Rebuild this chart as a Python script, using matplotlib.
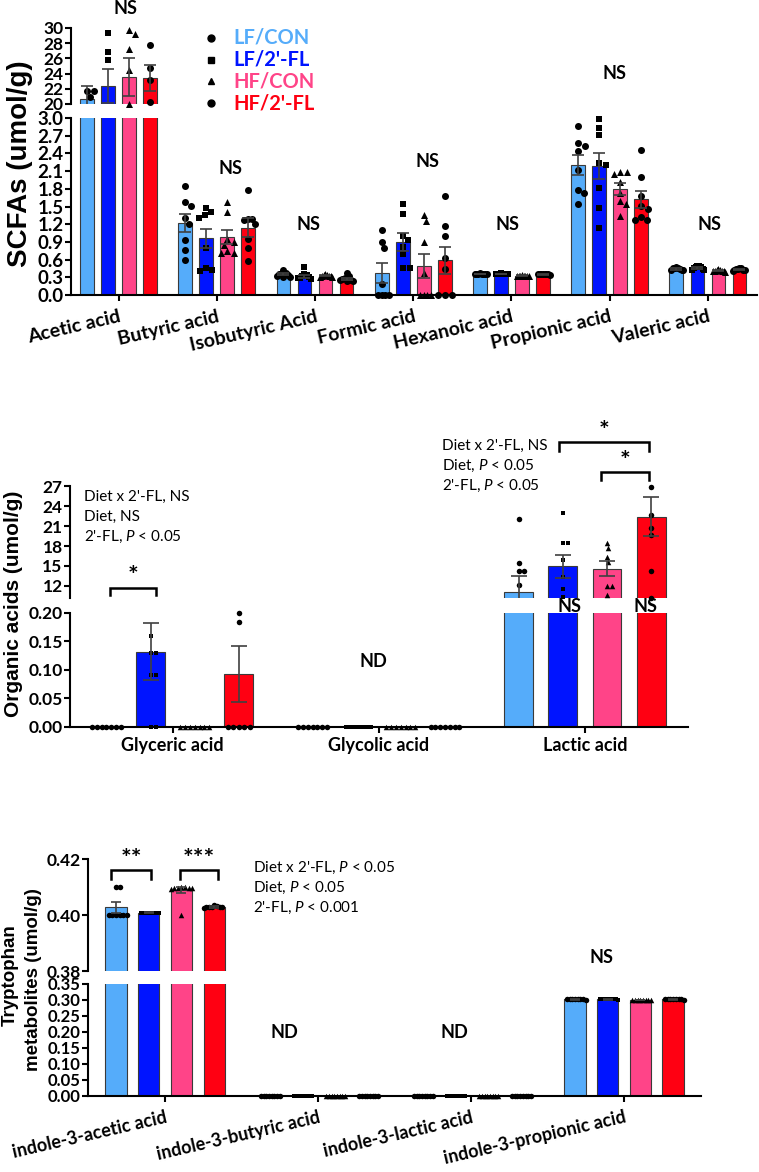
import numpy as np
import matplotlib
matplotlib.use('Agg')
import matplotlib.pyplot as plt
from matplotlib.lines import Line2D

plt.rcParams['font.family'] = ['Lato', 'DejaVu Sans']
plt.rcParams['mathtext.fontset'] = 'custom'
plt.rcParams['mathtext.rm'] = 'Lato'
plt.rcParams['mathtext.it'] = 'Lato:italic'
plt.rcParams['mathtext.bf'] = 'Lato:bold'

W, H = 759, 1172

# ---------------- data ----------------
groups = ['LF/CON', "LF/2'-FL", 'HF/CON', "HF/2'-FL"]
group_colors = ['#55ACFA', '#0014FF', '#FF4488', '#FF0012']
group_markers = ['o', 's', '^', 'o']

scfa_categories = ['Acetic acid', 'Butyric acid', 'Isobutyric Acid', 'Formic acid',
                   'Hexanoic acid', 'Propionic acid', 'Valeric acid']
scfa_means = [[20.66, 22.4, 23.6, 23.4],
              [1.225, 0.96, 0.98, 1.14],
              [0.35, 0.32, 0.33, 0.27],
              [0.37, 0.90, 0.49, 0.59],
              [0.36, 0.36, 0.33, 0.35],
              [2.20, 2.18, 1.80, 1.62],
              [0.44, 0.46, 0.41, 0.43]]
scfa_sems = [[1.65, 2.25, 2.5, 1.7],
             [0.15, 0.16, 0.12, 0.16],
             [0.015, 0.025, 0.01, 0.02],
             [0.17, 0.15, 0.21, 0.23],
             [0.004, 0.004, 0.004, 0.004],
             [0.17, 0.22, 0.10, 0.15],
             [0.01, 0.012, 0.01, 0.01]]
acetic_pts = [[21.75, 21.75, 20.9],
              [29.3, 26.9, 25.8],
              [29.7, 29.2, 27.2, 24.5, 20.0],
              [27.7, 24.7, 23.2, 20.3]]
butyric_pts = [[1.84, 1.58, 1.51, 1.30, 1.20, 0.93, 0.76, 0.60],
               [1.48, 1.40, 1.35, 1.30, 0.80, 0.45, 0.42, 0.40],
               [1.57, 1.41, 0.95, 0.90, 0.85, 0.75, 0.72, 0.72],
               [1.78, 1.29, 1.28, 1.27, 1.20, 0.95, 0.80, 0.57]]
isobutyric_pts = [[0.42, 0.38, 0.36, 0.35, 0.34, 0.33, 0.31, 0.30],
                  [0.48, 0.36, 0.34, 0.32, 0.30, 0.29, 0.28, 0.27],
                  [0.35, 0.34, 0.34, 0.33, 0.33, 0.32, 0.31, 0.30],
                  [0.38, 0.32, 0.29, 0.27, 0.26, 0.25, 0.24, 0.23]]
formic_pts = [[1.10, 0.89, 0.80, 0.19, 0, 0, 0, 0],
              [1.54, 1.38, 1.00, 0.93, 0.82, 0.69, 0.45, 0.45],
              [1.35, 1.26, 0.89, 0.37, 0, 0, 0, 0],
              [1.68, 1.17, 1.00, 0.63, 0.44, 0, 0, 0]]
hexanoic_pts = [[0.365, 0.36, 0.36, 0.36, 0.355, 0.355, 0.36, 0.36],
                [0.365, 0.36, 0.36, 0.36, 0.355, 0.36, 0.36, 0.36],
                [0.335, 0.33, 0.33, 0.33, 0.325, 0.33, 0.33, 0.33],
                [0.355, 0.35, 0.35, 0.35, 0.345, 0.35, 0.35, 0.35]]
propionic_pts = [[2.86, 2.57, 2.53, 2.44, 2.12, 1.78, 1.73, 1.54],
                 [2.99, 2.83, 2.71, 2.24, 2.20, 1.81, 1.47, 1.13],
                 [2.08, 2.08, 2.05, 1.92, 1.73, 1.60, 1.55, 1.34],
                 [2.46, 2.00, 1.67, 1.51, 1.46, 1.33, 1.27, 1.27]]
valeric_pts = [[0.47, 0.46, 0.45, 0.45, 0.44, 0.43, 0.42, 0.42],
               [0.50, 0.49, 0.48, 0.47, 0.46, 0.44, 0.43, 0.42],
               [0.44, 0.43, 0.42, 0.41, 0.41, 0.40, 0.40, 0.39],
               [0.46, 0.45, 0.44, 0.44, 0.43, 0.42, 0.42, 0.41]]
scfa_points = [acetic_pts, butyric_pts, isobutyric_pts, formic_pts,
               hexanoic_pts, propionic_pts, valeric_pts]

org_categories = ['Glyceric acid', 'Glycolic acid', 'Lactic acid']
org_means = [[0, 0.1316, 0, 0.0925],
             [0, 0, 0, 0],
             [11.1, 14.96, 14.6, 22.4]]
org_sems = [[0, 0.05, 0, 0.049],
            [0, 0, 0, 0],
            [2.36, 1.72, 1.15, 2.9]]
glyceric_pts = [[0, 0, 0, 0, 0, 0, 0],
                [0.16, 0.13, 0.13, 0.09, 0.09, 0, 0],
                [0, 0, 0, 0, 0, 0, 0],
                [0.20, 0.184, 0, 0, 0, 0, 0]]
glycolic_pts = [[0, 0, 0, 0, 0, 0, 0],
                [0, 0, 0, 0, 0, 0, 0, 0],
                [0, 0, 0, 0, 0, 0, 0],
                [0, 0, 0, 0, 0, 0, 0]]
lactic_pts = [[22.0, 15.5, 14.2, 14.2, 12.2],
              [23.0, 18.5, 18.4, 15.9, 13.3, 11.6, 10.4],
              [18.5, 17.7, 16.4, 15.6, 12.0, 12.0, 10.6],
              [26.8, 22.6, 20.7, 19.6, 14.2, 10.2]]
org_points = [glyceric_pts, glycolic_pts, lactic_pts]

trp_categories = ['indole-3-acetic acid', 'indole-3-butyric acid',
                  'indole-3-lactic acid', 'indole-3-propionic acid']
trp_means = [[0.40275, 0.4008, 0.409, 0.40275],
             [0, 0, 0, 0],
             [0, 0, 0, 0],
             [0.302, 0.302, 0.300, 0.302]]
trp_sems = [[0.0019, 0.0001, 0.0011, 0.0003],
            [0, 0, 0, 0],
            [0, 0, 0, 0],
            [0.0005, 0.0005, 0.0005, 0.0005]]
iaa_pts = [[0.410, 0.410, 0.400, 0.400, 0.400, 0.400, 0.400, 0.400],
           [0.4008, 0.4008, 0.4008, 0.4008, 0.4008, 0.4008, 0.4008, 0.4008],
           [0.4100, 0.4100, 0.4098, 0.4098, 0.4095, 0.4095, 0.4092, 0.400],
           [0.4032, 0.4030, 0.4030, 0.4028, 0.4028, 0.4026, 0.4030, 0.4034]]
iba_pts = [[0] * 8, [0] * 8, [0] * 8, [0] * 8]
ila_pts = [[0] * 8, [0] * 8, [0] * 8, [0] * 8]
ipa_pts = [[0.303, 0.302, 0.302, 0.302, 0.301, 0.302, 0.302, 0.302],
           [0.303, 0.302, 0.302, 0.302, 0.301, 0.302, 0.302, 0.302],
           [0.301, 0.300, 0.300, 0.300, 0.299, 0.300, 0.300, 0.300],
           [0.303, 0.302, 0.302, 0.302, 0.301, 0.302, 0.302, 0.302]]
trp_points = [iaa_pts, iba_pts, ila_pts, ipa_pts]

# ---------------- figure ----------------
fig = plt.figure(figsize=(W / 100, H / 100), dpi=100)

def add_ax(l, t, r, b):
    return fig.add_axes([l / W, 1 - b / H, (r - l) / W, (b - t) / H])

def fxy(x, y):
    return x / W, 1 - y / H

offsets = np.array([-0.321, -0.107, 0.107, 0.321])
bar_w = 0.14
edge_c = '#3a3a3a'
err_c = '#404040'

def style_axes(ax_u, ax_l, xlim, ylim_u, ylim_l, yt_u, yt_l, fmt_u, fmt_l, lsize_u, lsize_l):
    for ax in (ax_u, ax_l):
        ax.set_xlim(*xlim)
        ax.spines['top'].set_visible(False)
        ax.spines['right'].set_visible(False)
        ax.spines['left'].set_linewidth(1.5)
        ax.spines['bottom'].set_linewidth(1.5)
        ax.patch.set_alpha(0)
        ax.tick_params(axis='y', direction='out', length=4.3, width=1.5, pad=1)
        ax.tick_params(axis='x', direction='out', length=4.3, width=1.5)
    ax_u.spines['bottom'].set_visible(False)
    ax_u.tick_params(axis='x', bottom=False, labelbottom=False)
    ax_u.set_ylim(*ylim_u)
    ax_l.set_ylim(*ylim_l)
    ax_u.set_yticks(yt_u)
    ax_l.set_yticks(yt_l)
    ax_u.set_yticklabels([fmt_u % v for v in yt_u], fontweight='bold', fontsize=lsize_u)
    ax_l.set_yticklabels([fmt_l % v for v in yt_l], fontweight='bold', fontsize=lsize_l)

def swarm(ax_l, ax_u, xc, vals, d_px, half_w_px):
    ys = []
    for v in vals:
        a = ax_l if v <= ax_l.get_ylim()[1] else ax_u
        ys.append(a.transData.transform((0, v))[1])
    ys = np.array(ys)
    order = np.argsort(-ys, kind='stable')
    px, py = [], []
    offs = np.zeros(len(vals))
    for i in order:
        y = ys[i]
        cands = [0.0]
        for x0, y0 in zip(px, py):
            dy = abs(y - y0)
            if dy < d_px:
                dx = np.sqrt(d_px ** 2 - dy ** 2)
                cands += [x0 + dx, x0 - dx]
        cands = sorted(cands, key=lambda c: (round(abs(c), 6), -c))
        chosen = cands[-1]
        for c in cands:
            if all((c - x0) ** 2 + (y - y0) ** 2 >= d_px ** 2 - 1e-6 for x0, y0 in zip(px, py)):
                chosen = c
                break
        offs[i] = chosen
        px.append(chosen)
        py.append(y)
    m = np.abs(offs).max() if len(offs) else 0
    if m > half_w_px:
        offs *= half_w_px / m
    ppx = ax_l.transData.transform((1, 0))[0] - ax_l.transData.transform((0, 0))[0]
    return xc + offs / ppx

def draw_panel(ax_u, ax_l, means, sems, points, d_px, capsize):
    ncat = len(means)
    ppx = ax_l.transData.transform((1, 0))[0] - ax_l.transData.transform((0, 0))[0]
    for gi in range(4):
        xs = np.arange(ncat) + offsets[gi]
        hs = [m[gi] for m in means]
        for ax in (ax_u, ax_l):
            ax.bar(xs, hs, bar_w, color=group_colors[gi], edgecolor=edge_c,
                   linewidth=0.8, zorder=2)
    for ci in range(ncat):
        for gi in range(4):
            vals = np.array(points[ci][gi], dtype=float)
            if len(vals) == 0:
                continue
            xs = swarm(ax_l, ax_u, ci + offsets[gi], vals, d_px, bar_w * ppx / 2)
            mk = group_markers[gi]
            dd = d_px * 0.88 if mk == 's' else d_px
            s = (dd * 0.72) ** 2
            for ax in (ax_u, ax_l):
                lo, hi = ax.get_ylim()
                sel = (vals >= lo - 1e-9) & (vals <= hi + 1e-9)
                if sel.any():
                    ax.scatter(xs[sel], vals[sel], marker=mk, s=s, c='k', linewidths=0,
                               zorder=3, clip_on=False)
    for gi in range(4):
        xs = np.arange(ncat) + offsets[gi]
        hs = np.array([m[gi] for m in means])
        es = np.array([s[gi] for s in sems])
        keep = es > 0
        for ax in (ax_u, ax_l):
            ax.errorbar(xs[keep], hs[keep], yerr=es[keep], fmt='none', ecolor=err_c,
                        elinewidth=1.2, capsize=capsize, capthick=1.2, zorder=4)

def bracket(ax, x1, x2, y, yleg, label, ylab, fs):
    ax.plot([x1, x1, x2, x2], [yleg, y, y, yleg], color='k', lw=1.8,
            clip_on=False, zorder=5, solid_joinstyle='miter')
    ax.text((x1 + x2) / 2, ylab, label, ha='center', va='center', fontsize=fs,
            fontweight='bold', clip_on=False)

# ---------------- Panel 1: SCFAs ----------------
a1u = add_ax(71, 28, 757, 104)
a1l = add_ax(71, 118, 757, 295)
style_axes(a1u, a1l, (-0.484, 6.50), (20, 30), (0, 3.0),
           np.arange(20, 31, 2), np.round(np.arange(0, 3.01, 0.3), 1), '%d', '%.1f',
           12.5, 13.5)
draw_panel(a1u, a1l, scfa_means, scfa_sems, scfa_points, 7.0, 4.2)
a1l.set_xticks(range(len(scfa_categories)))
a1l.set_xticklabels(scfa_categories, rotation=13, ha='right', rotation_mode='anchor',
                    fontsize=14, fontweight='bold')
a1l.tick_params(axis='x', pad=5)

ns1 = [(0.07, 32.5, a1u), (0.14, 2.14, a1l), (-0.07, 1.19, a1l), (0.15, 2.26, a1l),
       (-0.04, 1.19, a1l), (0.05, 3.75, a1l), (0.02, 1.19, a1l)]
for ci, (dx, yy, ax) in enumerate(ns1):
    ax.text(ci + dx, yy, 'NS', ha='center', va='center', fontsize=13,
            fontweight='bold', clip_on=False)

fig.text(*fxy(20, 163.5), 'SCFAs (umol/g)', rotation=90, ha='center', va='center',
         fontsize=20, fontweight='bold', family=['Liberation Sans', 'DejaVu Sans'])

for i, g in enumerate(groups):
    yy = 38 + i * 21.7
    mk = group_markers[i]
    fig.add_artist(Line2D([fxy(210.7, yy)[0]], [fxy(210.7, yy)[1]], marker=mk,
                          color='k', markersize=5.0 if mk != 's' else 4.5,
                          linestyle='none', transform=fig.transFigure))
    fig.text(*fxy(233, yy), g, color=group_colors[i], ha='left', va='center',
             fontsize=14.5, fontweight='bold')

# ---------------- Panel 2: Organic acids ----------------
a2u = add_ax(70, 486, 688, 598)
a2l = add_ax(70, 612.7, 688, 726.7)
style_axes(a2u, a2l, (-0.498, 2.50), (10.2, 27), (0, 0.2),
           np.arange(12, 28, 3), np.round(np.arange(0, 0.201, 0.05), 2), '%d', '%.2f',
           12.5, 12.5)
draw_panel(a2u, a2l, org_means, org_sems, org_points, 5.5, 5.6)
a2l.set_xticks(range(len(org_categories)))
a2l.set_xticklabels(org_categories, fontsize=13, fontweight='bold')
a2l.tick_params(axis='x', pad=3)

bracket(a2u, 0 + offsets[0] + 0.015, 0 + offsets[1] + 0.025, 11.76, 10.6, '*', 13.4, 18)
bracket(a2u, 2 + offsets[1] - 0.02, 2 + offsets[3] - 0.01, 33.65, 32.3, '*', 35.2, 18)
bracket(a2u, 2 + offsets[2] - 0.03, 2 + offsets[3] - 0.01, 29.05, 27.9, '*', 30.7, 18)
a2l.text(1 - 0.026, 0.114, 'ND', ha='center', va='center', fontsize=13, fontweight='bold')
for gi, dx in ((1, 0.03), (3, -0.025)):
    a2l.text(2 + offsets[gi] + dx, 0.21, 'NS', ha='center', va='center', fontsize=13,
             fontweight='bold', clip_on=False, zorder=6)

for k, line in enumerate(["Diet x 2'-FL, NS", "Diet, NS", "2'-FL, $P$ < 0.05"]):
    fig.text(*fxy(84.3, 497.3 + k * 19.7), line, ha='left', va='center', fontsize=11)
for k, line in enumerate(["Diet x 2'-FL, NS", "Diet, $P$ < 0.05", "2'-FL, $P$ < 0.05"]):
    fig.text(*fxy(442.3, 445.7 + k * 20.2), line, ha='left', va='center', fontsize=11)

fig.text(*fxy(14, 603.5), 'Organic acids (umol/g)', rotation=90, ha='center',
         va='center', fontsize=15, fontweight='bold', family=['Liberation Sans', 'DejaVu Sans'])

# ---------------- Panel 3: Tryptophan metabolites ----------------
a3u = add_ax(88, 859, 701, 971)
a3l = add_ax(88, 984, 701, 1096)
style_axes(a3u, a3l, (-0.504, 3.503), (0.38, 0.42), (0, 0.35),
           [0.38, 0.40, 0.42], np.round(np.arange(0, 0.351, 0.05), 2), '%.2f', '%.2f',
           12.5, 12)
draw_panel(a3u, a3l, trp_means, trp_sems, trp_points, 5.5, 3.8)
a3l.set_xticks(range(len(trp_categories)))
a3l.set_xticklabels(trp_categories, rotation=13, ha='right', rotation_mode='anchor',
                    fontsize=13, fontweight='bold')
a3l.tick_params(axis='x', pad=5)

bracket(a3u, offsets[0] - 0.03, offsets[1] + 0.012, 0.41607, 0.41286, '**', 0.4200, 18)
bracket(a3u, offsets[2] - 0.012, offsets[3] + 0.028, 0.41607, 0.41286, '***', 0.4200, 18)
a3l.text(1 - 0.22, 0.199, 'ND', ha='center', va='center', fontsize=13, fontweight='bold')
a3l.text(2 - 0.11, 0.199, 'ND', ha='center', va='center', fontsize=13, fontweight='bold')
a3l.text(3 - 0.15, 0.433, 'NS', ha='center', va='center', fontsize=13, fontweight='bold',
         clip_on=False)

for k, line in enumerate(["Diet x 2'-FL, $P$ < 0.05", "Diet, $P$ < 0.05", "2'-FL, $P$ < 0.001"]):
    fig.text(*fxy(253.3, 868.3 + k * 20), line, ha='left', va='center', fontsize=11)

fig.text(*fxy(10, 975), 'Tryptophan', rotation=90, ha='center', va='center',
         fontsize=13.5, fontweight='bold', family=['Liberation Sans', 'DejaVu Sans'])
fig.text(*fxy(34, 980), 'metabolites (umol/g)', rotation=90, ha='center', va='center',
         fontsize=13.5, fontweight='bold', family=['Liberation Sans', 'DejaVu Sans'])

fig.savefig('out.png', dpi=100)
